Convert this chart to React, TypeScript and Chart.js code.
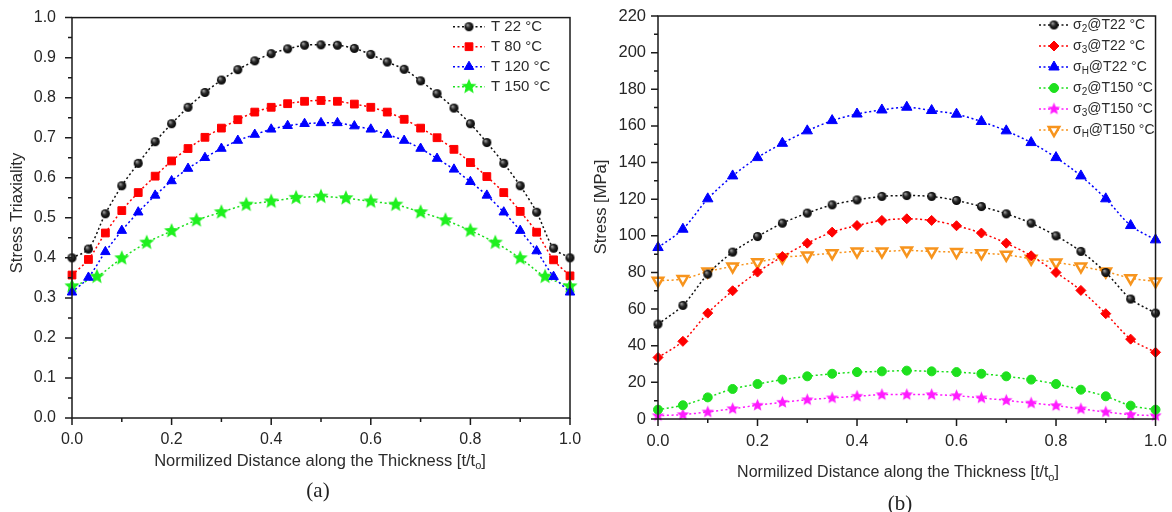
import React, { useEffect, useRef } from 'react';
import { Chart, registerables } from 'chart.js';
import { drawPoint } from 'chart.js/helpers';

Chart.register(...registerables);

// ---------- data ----------
const xFine = [0, 0.033, 0.067, 0.1, 0.133, 0.167, 0.2, 0.233, 0.267, 0.3, 0.333, 0.367, 0.4, 0.433, 0.467, 0.5, 0.533, 0.567, 0.6, 0.633, 0.667, 0.7, 0.733, 0.767, 0.8, 0.833, 0.867, 0.9, 0.933, 0.967, 1.0];
const xCoarse = [0, 0.05, 0.1, 0.15, 0.2, 0.25, 0.3, 0.35, 0.4, 0.45, 0.5, 0.55, 0.6, 0.65, 0.7, 0.75, 0.8, 0.85, 0.9, 0.95, 1.0];

const triaxT22 = [0.400, 0.422, 0.510, 0.580, 0.636, 0.690, 0.735, 0.776, 0.813, 0.844, 0.870, 0.892, 0.910, 0.922, 0.931, 0.932, 0.931, 0.923, 0.908, 0.889, 0.871, 0.842, 0.810, 0.774, 0.735, 0.688, 0.636, 0.580, 0.514, 0.424, 0.400];
const triaxT80 = [0.357, 0.396, 0.462, 0.518, 0.563, 0.604, 0.642, 0.673, 0.701, 0.724, 0.745, 0.764, 0.776, 0.785, 0.791, 0.793, 0.791, 0.784, 0.776, 0.764, 0.746, 0.724, 0.700, 0.671, 0.638, 0.603, 0.563, 0.516, 0.464, 0.395, 0.355];
const triaxT120 = [0.314, 0.351, 0.415, 0.468, 0.514, 0.556, 0.592, 0.623, 0.650, 0.673, 0.693, 0.708, 0.721, 0.730, 0.735, 0.737, 0.737, 0.729, 0.721, 0.708, 0.693, 0.673, 0.648, 0.621, 0.590, 0.556, 0.514, 0.468, 0.417, 0.353, 0.314];
const triaxT150 = [0.329, 0.353, 0.399, 0.438, 0.467, 0.494, 0.514, 0.533, 0.541, 0.550, 0.553, 0.549, 0.541, 0.533, 0.514, 0.494, 0.468, 0.438, 0.399, 0.353, 0.329];

const s2T22 = [51.8, 62.0, 79.1, 91.1, 99.6, 106.9, 112.4, 116.9, 119.6, 121.5, 122.0, 121.5, 119.3, 116.0, 112.0, 106.9, 100.0, 91.5, 80.0, 65.5, 57.8];
const s3T22 = [33.6, 42.4, 57.8, 70.0, 80.2, 88.7, 96.0, 102.0, 105.6, 108.4, 109.3, 108.4, 105.5, 101.5, 96.0, 89.1, 80.0, 70.2, 57.5, 43.6, 36.4];
const sHT22 = [93.6, 103.6, 120.2, 132.7, 142.7, 150.5, 157.3, 162.9, 166.5, 168.7, 170.2, 168.4, 166.4, 162.4, 157.3, 150.9, 142.7, 132.7, 120.2, 105.6, 97.8];
const s2T150 = [5.1, 7.5, 11.8, 16.4, 19.1, 21.5, 23.3, 24.7, 25.6, 26.0, 26.4, 26.0, 25.6, 24.7, 23.3, 21.5, 19.1, 16.0, 12.4, 7.3, 5.1];
const s3T150 = [1.8, 2.4, 3.8, 5.6, 7.5, 9.1, 10.5, 11.5, 12.4, 13.3, 13.3, 13.3, 12.7, 11.5, 10.2, 8.7, 7.3, 5.5, 3.8, 2.4, 1.8];
const sHT150 = [75.5, 76.4, 80.5, 83.3, 85.6, 88.2, 89.3, 90.5, 91.5, 91.5, 92.0, 91.5, 91.1, 90.5, 89.6, 87.5, 85.5, 83.3, 80.5, 76.9, 75.1];

const labelsA = ['T 22 °C', 'T 80 °C', 'T 120 °C', 'T 150 °C'];
const labelsB = ['σ_2@T22 °C', 'σ_3@T22 °C', 'σ_H@T22 °C', 'σ_2@T150 °C', 'σ_3@T150 °C', 'σ_H@T150 °C'];

const xMajorTicks = [0, 0.2, 0.4, 0.6, 0.8, 1.0];
const xMinorTicks = [0.1, 0.3, 0.5, 0.7, 0.9];
const yMajorTicksA = [0, 0.1, 0.2, 0.3, 0.4, 0.5, 0.6, 0.7, 0.8, 0.9, 1.0];
const yMinorTicksA = [0.05, 0.15, 0.25, 0.35, 0.45, 0.55, 0.65, 0.75, 0.85, 0.95];
const yMajorTicksB = [0, 20, 40, 60, 80, 100, 120, 140, 160, 180, 200, 220];
const yMinorTicksB = [10, 30, 50, 70, 90, 110, 130, 150, 170, 190, 210];

const xTitleMain = 'Normilized Distance along the Thickness [t/t';
const xTitleSub = 'o';
const xTitleEnd = ']';
const yTitleA = 'Stress Triaxiality';
const yTitleB = 'Stress [MPa]';

const FONT = '"Liberation Sans", Arial, sans-serif';

function pairs(xs: number[], ys: number[]) {
  return ys.map((y, i) => ({ x: xs[i], y }));
}

function makeStar(outer: number, color: string) {
  const size = Math.ceil(outer * 2 + 2);
  const c = document.createElement('canvas');
  c.width = size;
  c.height = size;
  const ctx = c.getContext('2d')!;
  const cx = size / 2, cy = size / 2, inner = outer * 0.45;
  ctx.beginPath();
  for (let k = 0; k < 10; k++) {
    const r = k % 2 === 0 ? outer : inner;
    const a = -Math.PI / 2 + (k * Math.PI) / 5;
    const px = cx + r * Math.cos(a), py = cy + r * Math.sin(a);
    if (k === 0) ctx.moveTo(px, py); else ctx.lineTo(px, py);
  }
  ctx.closePath();
  ctx.fillStyle = color;
  ctx.fill();
  return c;
}

function makeSphere(r: number) {
  const size = Math.ceil(r * 2 + 2);
  const c = document.createElement('canvas');
  c.width = size;
  c.height = size;
  const ctx = c.getContext('2d')!;
  const cx = size / 2, cy = size / 2;
  const g = ctx.createRadialGradient(cx - r * 0.35, cy - r * 0.4, r * 0.1, cx, cy, r);
  g.addColorStop(0, '#9a9a9a');
  g.addColorStop(0.45, '#2a2a2a');
  g.addColorStop(1, '#000000');
  ctx.beginPath();
  ctx.arc(cx, cy, r, 0, Math.PI * 2);
  ctx.fillStyle = g;
  ctx.fill();
  return c;
}

// draws text where "_X" marks a subscript character
function drawRich(ctx: CanvasRenderingContext2D, text: string, x: number, y: number, size: number, align: 'left' | 'center') {
  const parts: { t: string; sub: boolean }[] = [];
  let buf = '';
  for (let i = 0; i < text.length; i++) {
    if (text[i] === '_' && i + 1 < text.length) {
      if (buf) parts.push({ t: buf, sub: false });
      buf = '';
      parts.push({ t: text[i + 1], sub: true });
      i++;
    } else buf += text[i];
  }
  if (buf) parts.push({ t: buf, sub: false });
  const subSize = Math.round(size * 0.68);
  let total = 0;
  const widths = parts.map((p) => {
    ctx.font = `${p.sub ? subSize : size}px ${FONT}`;
    const w = ctx.measureText(p.t).width;
    total += w;
    return w;
  });
  let cx = align === 'center' ? x - total / 2 : x;
  ctx.textAlign = 'left';
  ctx.textBaseline = 'middle';
  parts.forEach((p, i) => {
    ctx.font = `${p.sub ? subSize : size}px ${FONT}`;
    ctx.fillText(p.t, cx, p.sub ? y + size * 0.32 : y);
    cx += widths[i];
  });
}

type Deco = {
  xMajor: number[]; xMinor: number[]; yMajor: number[]; yMinor: number[];
  yTitle: string; yTitlePos: [number, number]; yTitleSize: number;
  xTitlePos: [number, number]; xTitleSize: number;
  legend: { x1: number; x2: number; xm: number; xt: number; rows: number[]; size: number; labels: string[] };
};

function decoPlugin(d: Deco) {
  return {
    id: 'deco',
    afterDraw(chart: any) {
      const { ctx, chartArea: a, scales } = chart;
      ctx.save();
      ctx.setLineDash([]);
      ctx.strokeStyle = '#1a1a1a';
      ctx.lineWidth = 1.5;
      ctx.strokeRect(a.left, a.top, a.right - a.left, a.bottom - a.top);
      ctx.beginPath();
      d.xMajor.forEach((v) => { const p = scales.x.getPixelForValue(v); ctx.moveTo(p, a.bottom); ctx.lineTo(p, a.bottom + 7); });
      d.xMinor.forEach((v) => { const p = scales.x.getPixelForValue(v); ctx.moveTo(p, a.bottom); ctx.lineTo(p, a.bottom + 4); });
      d.yMajor.forEach((v) => { const p = scales.y.getPixelForValue(v); ctx.moveTo(a.left, p); ctx.lineTo(a.left - 7, p); });
      d.yMinor.forEach((v) => { const p = scales.y.getPixelForValue(v); ctx.moveTo(a.left, p); ctx.lineTo(a.left - 4, p); });
      ctx.stroke();

      // axis titles
      ctx.fillStyle = '#2b2b2b';
      ctx.save();
      ctx.translate(d.yTitlePos[0], d.yTitlePos[1]);
      ctx.rotate(-Math.PI / 2);
      ctx.font = `${d.yTitleSize}px ${FONT}`;
      ctx.textAlign = 'center';
      ctx.textBaseline = 'middle';
      ctx.fillText(d.yTitle, 0, 0);
      ctx.restore();
      drawRich(ctx, xTitleMain + '_' + xTitleSub + xTitleEnd, d.xTitlePos[0], d.xTitlePos[1], d.xTitleSize, 'center');

      // legend
      const L = d.legend;
      chart.data.datasets.forEach((ds: any, i: number) => {
        const y = L.rows[i];
        ctx.save();
        ctx.strokeStyle = ds.borderColor;
        ctx.lineWidth = ds.borderWidth;
        ctx.setLineDash(ds.borderDash);
        ctx.beginPath();
        ctx.moveTo(L.x1, y);
        ctx.lineTo(L.x2, y);
        ctx.stroke();
        ctx.setLineDash([]);
        ctx.fillStyle = ds.pointBackgroundColor;
        ctx.strokeStyle = ds.pointBorderColor;
        ctx.lineWidth = ds.pointBorderWidth;
        drawPoint(ctx, { pointStyle: ds.pointStyle, rotation: ds.pointRotation || 0, radius: ds.pointRadius, borderWidth: ds.pointBorderWidth }, L.xm, y);
        ctx.restore();
        ctx.fillStyle = '#2b2b2b';
        drawRich(ctx, L.labels[i], L.xt, y, L.size, 'left');
      });
      ctx.restore();
    },
  };
}

function lineDs(label: string, data: any[], color: string, style: any, radius: number, extra: any = {}) {
  return {
    label,
    data,
    borderColor: color,
    borderWidth: 1.5,
    borderDash: [2, 2.5],
    tension: 0.3,
    pointStyle: style,
    pointRadius: radius,
    pointBackgroundColor: color,
    pointBorderColor: color,
    pointBorderWidth: 1,
    clip: false as any,
    ...extra,
  };
}

function axisOpts(min: number, max: number, step: number, digits: number, size: number, pad: number, fix: (s: any) => void) {
  return {
    type: 'linear' as const,
    min,
    max,
    afterFit: fix,
    grid: { display: false, drawTicks: true, tickLength: 8 },
    border: { display: false },
    ticks: {
      stepSize: step,
      autoSkip: false,
      maxRotation: 0,
      padding: pad,
      color: '#262626',
      font: { family: FONT, size },
      callback: (v: any) => Number(v).toFixed(digits),
    },
  };
}

export default function App() {
  const leftRef = useRef<HTMLCanvasElement>(null);
  const rightRef = useRef<HTMLCanvasElement>(null);

  useEffect(() => {
    document.body.style.margin = '0';
    const starGreen = makeStar(8, '#1ef01e');
    const starMag = makeStar(6.5, '#ff1aff');
    const sphere = makeSphere(4.5);

    const left = new Chart(leftRef.current!, {
      type: 'line',
      data: {
        datasets: [
          lineDs(labelsA[0], pairs(xFine, triaxT22), '#111111', sphere, 4.5),
          lineDs(labelsA[1], pairs(xFine, triaxT80), '#ff0000', 'rect', 5.5),
          lineDs(labelsA[2], pairs(xFine, triaxT120), '#0000ff', 'triangle', 5.5),
          lineDs(labelsA[3], pairs(xCoarse, triaxT150), '#1ee01e', starGreen, 8),
        ],
      },
      options: {
        responsive: false,
        animation: false,
        devicePixelRatio: 1,
        layout: { padding: { top: 15, right: 16, left: 0, bottom: 0 } },
        plugins: { legend: { display: false }, tooltip: { enabled: false } },
        scales: {
          x: axisOpts(0, 1, 0.2, 1, 16, 4, (s: any) => { s.height = 94; }),
          y: axisOpts(0, 1, 0.1, 1, 16, 8, (s: any) => { s.width = 72; }),
        },
      } as any,
      plugins: [decoPlugin({
        xMajor: xMajorTicks, xMinor: xMinorTicks, yMajor: yMajorTicksA, yMinor: yMinorTicksA,
        yTitle: yTitleA, yTitlePos: [17.5, 213], yTitleSize: 16.5,
        xTitlePos: [320, 461], xTitleSize: 16.5,
        legend: { x1: 453, x2: 485, xm: 469, xt: 491, rows: [26.7, 46.7, 66.7, 86.7], size: 15, labels: labelsA },
      })],
    });

    const right = new Chart(rightRef.current!, {
      type: 'line',
      data: {
        datasets: [
          lineDs(labelsB[0], pairs(xCoarse, s2T22), '#111111', sphere, 4.5),
          lineDs(labelsB[1], pairs(xCoarse, s3T22), '#ff0000', 'rectRot', 5),
          lineDs(labelsB[2], pairs(xCoarse, sHT22), '#0000ff', 'triangle', 6),
          lineDs(labelsB[3], pairs(xCoarse, s2T150), '#1ee01e', 'circle', 4.5),
          lineDs(labelsB[4], pairs(xCoarse, s3T150), '#ff1aff', starMag, 6.5),
          lineDs(labelsB[5], pairs(xCoarse, sHT150), '#f7941d', 'triangle', 6, {
            pointRotation: 180, pointBackgroundColor: '#ffffff', pointBorderWidth: 2.5,
          }),
        ],
      },
      options: {
        responsive: false,
        animation: false,
        devicePixelRatio: 1,
        layout: { padding: { top: 16, right: 15, left: 0, bottom: 0 } },
        plugins: { legend: { display: false }, tooltip: { enabled: false } },
        scales: {
          x: axisOpts(0, 1, 0.2, 1, 16.5, 5, (s: any) => { s.height = 93; }),
          y: axisOpts(0, 220, 20, 0, 16.5, 4, (s: any) => { s.width = 72; }),
        },
      } as any,
      plugins: [decoPlugin({
        xMajor: xMajorTicks, xMinor: xMinorTicks, yMajor: yMajorTicksB, yMinor: yMinorTicksB,
        yTitle: yTitleB, yTitlePos: [15.5, 207], yTitleSize: 16.5,
        xTitlePos: [312, 473], xTitleSize: 16,
        legend: { x1: 453, x2: 484, xm: 468, xt: 487, rows: [25, 46, 67, 88, 109, 130], size: 14, labels: labelsB },
      })],
    });

    return () => {
      left.destroy();
      right.destroy();
    };
  }, []);

  const cap: React.CSSProperties = {
    position: 'absolute',
    transform: 'translate(-50%, -50%)',
    fontFamily: '"Liberation Serif", "Times New Roman", serif',
    fontSize: 21,
    color: '#222',
    lineHeight: 1,
    whiteSpace: 'nowrap',
  };

  return (
    <div style={{ position: 'absolute', left: 0, top: 0, width: 1172, height: 512, background: '#ffffff', overflow: 'hidden' }}>
      <canvas ref={leftRef} width={586} height={512} style={{ position: 'absolute', left: 0, top: 0 }} />
      <canvas ref={rightRef} width={586} height={512} style={{ position: 'absolute', left: 586, top: 0 }} />
      <div style={{ ...cap, left: 318, top: 490 }}>(a)</div>
      <div style={{ ...cap, left: 900, top: 503 }}>(b)</div>
    </div>
  );
}
